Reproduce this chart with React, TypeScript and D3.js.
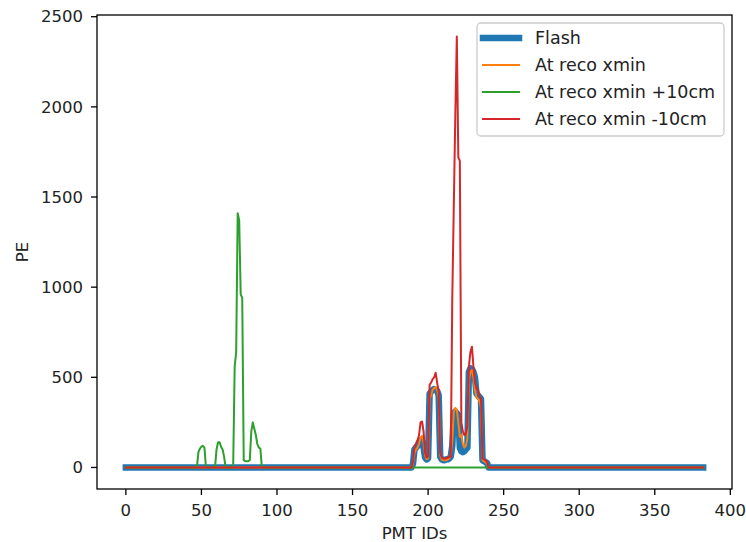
import React from "react";
import * as d3 from "d3";

// PMT id range
const pmtFirst = 0;
const pmtLast = 382;

// Nonzero segments (all other PMTs read as 0)
const flashStart = 189;
const flashValues = [
  0, 20, 100, 110, 120, 140, 150, 145, 110, 55, 45, 50, 410, 420, 430, 435, 430, 425, 400, 60,
  45, 40, 40, 45, 45, 50, 60, 120, 300, 310, 300, 290, 110, 90, 85, 90, 100, 110, 530, 550,
  545, 530, 500, 410, 400, 390, 380, 40, 35, 30, 25, 0,
];

const recoStart = 189;
const recoValues = [
  0, 20, 80, 100, 110, 130, 165, 175, 140, 70, 45, 50, 380, 400, 430, 440, 445, 430, 390, 70,
  45, 40, 40, 40, 45, 50, 70, 150, 310, 330, 320, 250, 170, 180, 130, 110, 120, 160, 480, 530,
  540, 500, 430, 390, 380, 370, 330, 40, 35, 30, 20, 0,
];

const plusStart = 46;
const plusValues = [
  0, 0, 85, 105, 115, 120, 110, 0, 0, 0, 0, 0, 0, 0, 100, 140, 140, 115, 100, 60,
  0, 0, 0, 0, 0, 0, 560, 640, 1410, 1370, 960, 940, 40, 35, 35, 35, 40, 200, 250, 215,
  180, 130, 110, 105, 0,
];

const minusStart = 189;
const minusValues = [
  0, 30, 120, 130, 150, 180, 250, 255, 200, 80, 55, 60, 460, 470, 490, 500, 525, 470, 420, 80,
  55, 50, 50, 50, 55, 60, 60, 940, 1450, 1950, 2390, 1720, 1700, 250, 200, 180, 190, 230, 560, 640,
  670, 560, 470, 440, 430, 400, 380, 50, 45, 40, 30, 0,
];

const seriesNames = ["Flash", "At reco xmin", "At reco xmin +10cm", "At reco xmin -10cm"];
const seriesColors = ["#1f77b4", "#ff7f0e", "#2ca02c", "#d62728"];
const seriesWidths = [6.5, 2, 2, 2];

const xTicks = [0, 50, 100, 150, 200, 250, 300, 350, 400];
const yTicks = [0, 500, 1000, 1500, 2000, 2500];

function expand(start: number, vals: number[]): [number, number][] {
  const out: [number, number][] = [];
  for (let id = pmtFirst; id <= pmtLast; id++) {
    const k = id - start;
    out.push([id, k >= 0 && k < vals.length ? vals[k] : 0]);
  }
  return out;
}

export default function App() {
  const W = 746, H = 542;
  const L = 97, R = 732, T = 15, B = 489;
  const x = d3.scaleLinear().domain([-19.1, 401.1]).range([L, R]);
  const y = d3.scaleLinear().domain([-119.5, 2509.5]).range([B, T]);
  const line = d3.line<[number, number]>().x((d) => x(d[0])).y((d) => y(d[1]));
  const data = [
    expand(flashStart, flashValues),
    expand(recoStart, recoValues),
    expand(plusStart, plusValues),
    expand(minusStart, minusValues),
  ];
  const font = "DejaVu Sans";
  const fs = 16.5;
  const lfs = 17.5;
  const legX = 477, legY = 23, legW = 247, legH = 113;
  const rowY = [38, 65, 92, 119];
  return (
    <svg width={W} height={H} style={{ position: "absolute", left: 0, top: 0 }} fontFamily={font}>
      <rect x={0} y={0} width={W} height={H} fill="#fff" />
      <defs>
        <clipPath id="plotclip">
          <rect x={L} y={T} width={R - L} height={B - T} />
        </clipPath>
      </defs>
      <g clipPath="url(#plotclip)">
        {data.map((d, i) => (
          <path
            key={i}
            d={line(d) || ""}
            fill="none"
            stroke={seriesColors[i]}
            strokeWidth={seriesWidths[i]}
            strokeLinecap="square"
            strokeLinejoin="round"
          />
        ))}
      </g>
      {/* spines */}
      <rect x={L} y={T} width={R - L} height={B - T} fill="none" stroke="#000" strokeWidth={1.3} />
      {/* x ticks */}
      {xTicks.map((t) => (
        <g key={"x" + t}>
          <line x1={x(t)} x2={x(t)} y1={B} y2={B + 6} stroke="#000" strokeWidth={1.3} />
          <text x={x(t)} y={B + 21} dy="0.35em" textAnchor="middle" fontSize={fs} fill="#222">
            {t}
          </text>
        </g>
      ))}
      {/* y ticks */}
      {yTicks.map((t) => (
        <g key={"y" + t}>
          <line x1={L - 6} x2={L} y1={y(t)} y2={y(t)} stroke="#000" strokeWidth={1.3} />
          <text x={L - 14} y={y(t)} dy="0.35em" textAnchor="end" fontSize={fs} fill="#222">
            {t}
          </text>
        </g>
      ))}
      <text x={(L + R) / 2} y={533} dy="0.35em" textAnchor="middle" fontSize={fs} fill="#222">
        PMT IDs
      </text>
      <text
        transform={`translate(22,${(T + B) / 2}) rotate(-90)`}
        dy="0.35em"
        textAnchor="middle"
        fontSize={fs}
        fill="#222"
      >
        PE
      </text>
      {/* legend */}
      <rect x={legX} y={legY} width={legW} height={legH} rx={4} fill="#fff" fillOpacity={0.8} stroke="#cccccc" strokeWidth={1.3} />
      {seriesNames.map((n, i) => (
        <g key={n}>
          <line
            x1={483}
            x2={519}
            y1={rowY[i]}
            y2={rowY[i]}
            stroke={seriesColors[i]}
            strokeWidth={seriesWidths[i]}
            strokeLinecap="square"
          />
          <text x={535} y={rowY[i]} dy="0.35em" fontSize={lfs} fill="#222">
            {n}
          </text>
        </g>
      ))}
    </svg>
  );
}
